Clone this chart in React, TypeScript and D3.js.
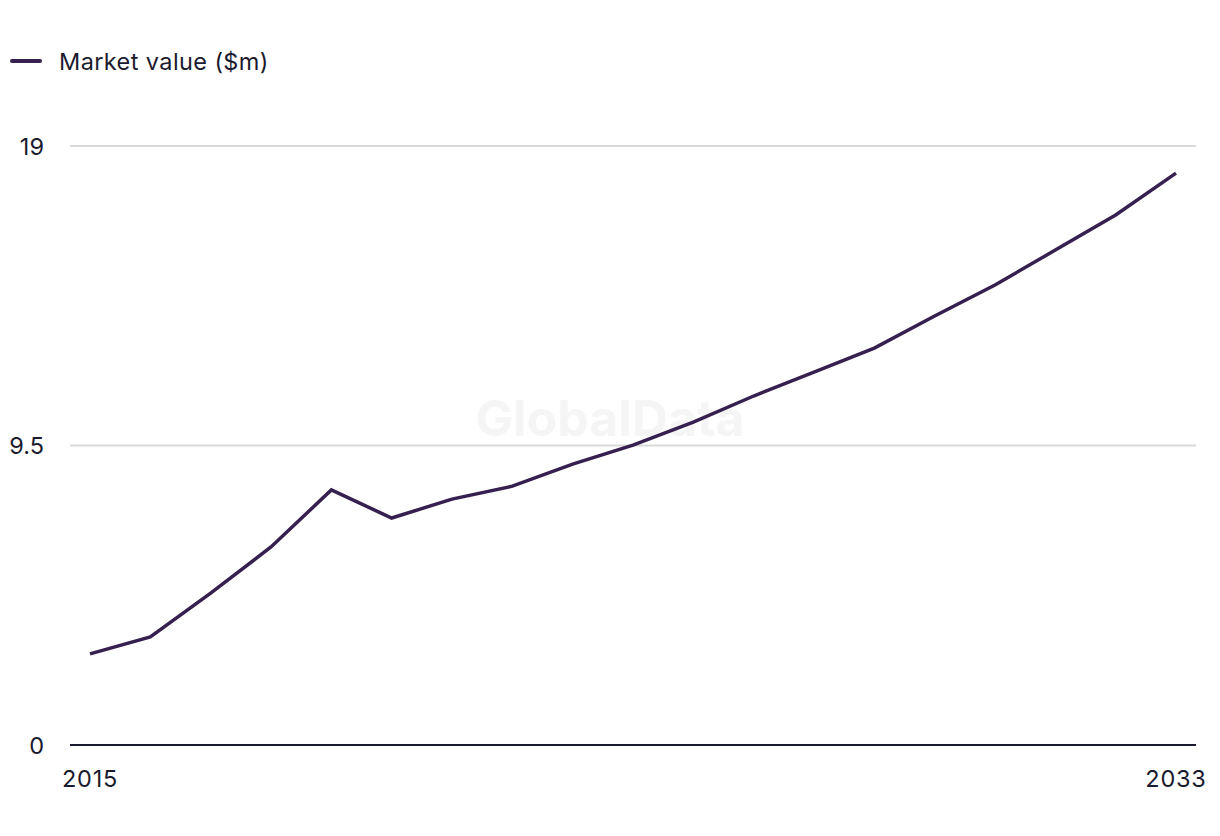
import React from "react";
import * as d3 from "d3";

const years = [2015,2016,2017,2018,2019,2020,2021,2022,2023,2024,2025,2026,2027,2028,2029,2030,2031,2032,2033];
const marketValue = [2.89,3.43,4.82,6.28,8.09,7.20,7.80,8.21,8.91,9.51,10.24,11.07,11.83,12.59,13.61,14.59,15.70,16.81,18.14];
const yTicks = [0, 9.5, 19];
const xTickLabels = ["2015", "2033"];
const legendLabel = "Market value ($m)";

const W = 1220, H = 836;
const FONT = "Inter, 'Open Sans', sans-serif";
const TEXT = "#1b1b2f";
const LINE = "#36204f";
const FS = 23.5;

export default function App() {
  const x = d3.scaleLinear().domain([2015, 2033]).range([90, 1176]);
  const y = d3.scaleLinear().domain([0, 19]).range([745, 146]);
  const line = d3.line<number>().x((_, i) => x(years[i])).y(d => y(d));
  return (
    <svg width={W} height={H} style={{ position: "absolute", left: 0, top: 0 }}>
      <rect width={W} height={H} fill="#fff" />
      <text x={610} y={436} textAnchor="middle" fontFamily={FONT} fontWeight={700} fontSize={50} fill="#f5f5f5">GlobalData</text>
      <line x1={12} x2={40} y1={61} y2={61} stroke={LINE} strokeWidth={4} strokeLinecap="round" />
      <text x={59} y={70} fontFamily={FONT} fontSize={FS} letterSpacing={0.4} fill={TEXT}>{legendLabel}</text>
      {yTicks.map(t => (
        <g key={t}>
          {t !== 0 && <line x1={70} x2={1196} y1={y(t)} y2={y(t)} stroke="#d9d9d9" strokeWidth={2} />}
          <text x={44} y={y(t) + 8.5} textAnchor="end" fontFamily={FONT} fontSize={FS} fill={TEXT}>{t}</text>
        </g>
      ))}
      <line x1={70} x2={1196} y1={y(0)} y2={y(0)} stroke={TEXT} strokeWidth={2} />
      {xTickLabels.map(l => (
        <text key={l} x={x(+l)} y={787} textAnchor="middle" fontFamily={FONT} fontSize={FS} letterSpacing={0.8} fill={TEXT}>{l}</text>
      ))}
      <path d={line(marketValue) || ""} fill="none" stroke={LINE} strokeWidth={3.5} strokeLinejoin="miter" />
    </svg>
  );
}
